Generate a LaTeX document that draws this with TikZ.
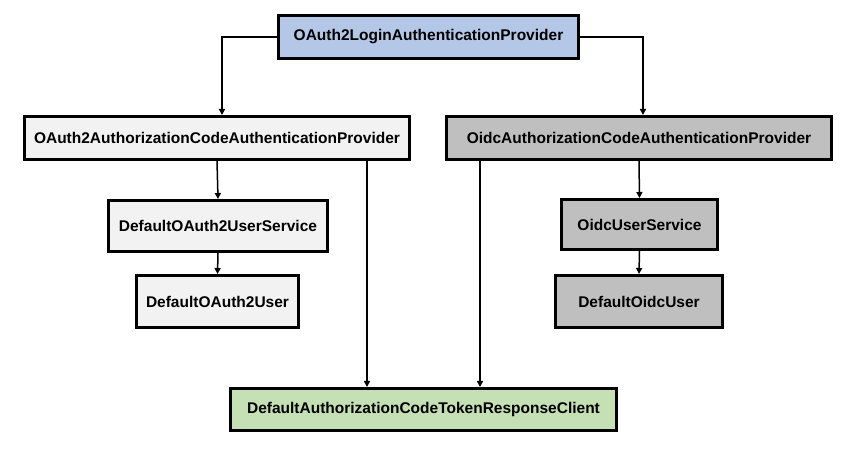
\documentclass[tikz,border=0pt]{standalone}
\usepackage{fontspec}
\setmainfont{Liberation Sans}
\usetikzlibrary{arrows.meta}
\definecolor{cblue}{HTML}{B4C7E7}
\definecolor{clight}{HTML}{F2F2F2}
\definecolor{cgray}{HTML}{BFBFBF}
\definecolor{cgreen}{HTML}{C5E0B4}
\tikzset{
  box/.style={draw=black, line width=3pt, inner sep=0pt, font=\fontsize{15.5}{17}\selectfont\bfseries},
  arr/.style={line width=1.5pt, -{Triangle[length=6pt,width=6pt]}},
}
\begin{document}
\begin{tikzpicture}[x=1pt,y=1pt]
\useasboundingbox (0,0) rectangle (865,458);
\node[box, fill=cblue, minimum width=300pt, minimum height=43pt] (top) at (428.5,421) {OAuth2LoginAuthenticationProvider};
\node[box, fill=clight, minimum width=385pt, minimum height=43pt] (left) at (217,320) {OAuth2AuthorizationCodeAuthenticationProvider};
\node[box, fill=cgray, minimum width=385pt, minimum height=43pt] (right) at (639,320) {OidcAuthorizationCodeAuthenticationProvider};
\node[box, fill=clight, minimum width=219pt, minimum height=51pt] (dus) at (218,232) {DefaultOAuth2UserService};
\node[box, fill=clight, minimum width=162pt, minimum height=52pt] (du) at (217.5,156.5) {DefaultOAuth2User};
\node[box, fill=cgray, minimum width=156pt, minimum height=50pt] (ous) at (639.5,233.5) {OidcUserService};
\node[box, fill=cgray, minimum width=167pt, minimum height=52pt] (ou) at (639,156.5) {DefaultOidcUser};
\node[box, fill=cgreen, minimum width=386pt, minimum height=42pt] (bot) at (423.5,48.5) {DefaultAuthorizationCodeTokenResponseClient};
\coordinate (lx) at (367,0);
\coordinate (rx) at (480,0);
\draw[arr] (top.west) -| ([xshift=5pt]left.north);
\draw[arr] (top.east) -| ([xshift=4pt]right.north);
\draw[arr] (left.south) -- (dus.north);
\draw[arr] (dus.south) -- (du.north);
\draw[arr] (right.south) -- (ous.north);
\draw[arr] (ous.south) -- (ou.north);
\draw[arr] (left.south -| lx) -- (bot.north -| lx);
\draw[arr] (right.south -| rx) -- (bot.north -| rx);
\end{tikzpicture}
\end{document}
